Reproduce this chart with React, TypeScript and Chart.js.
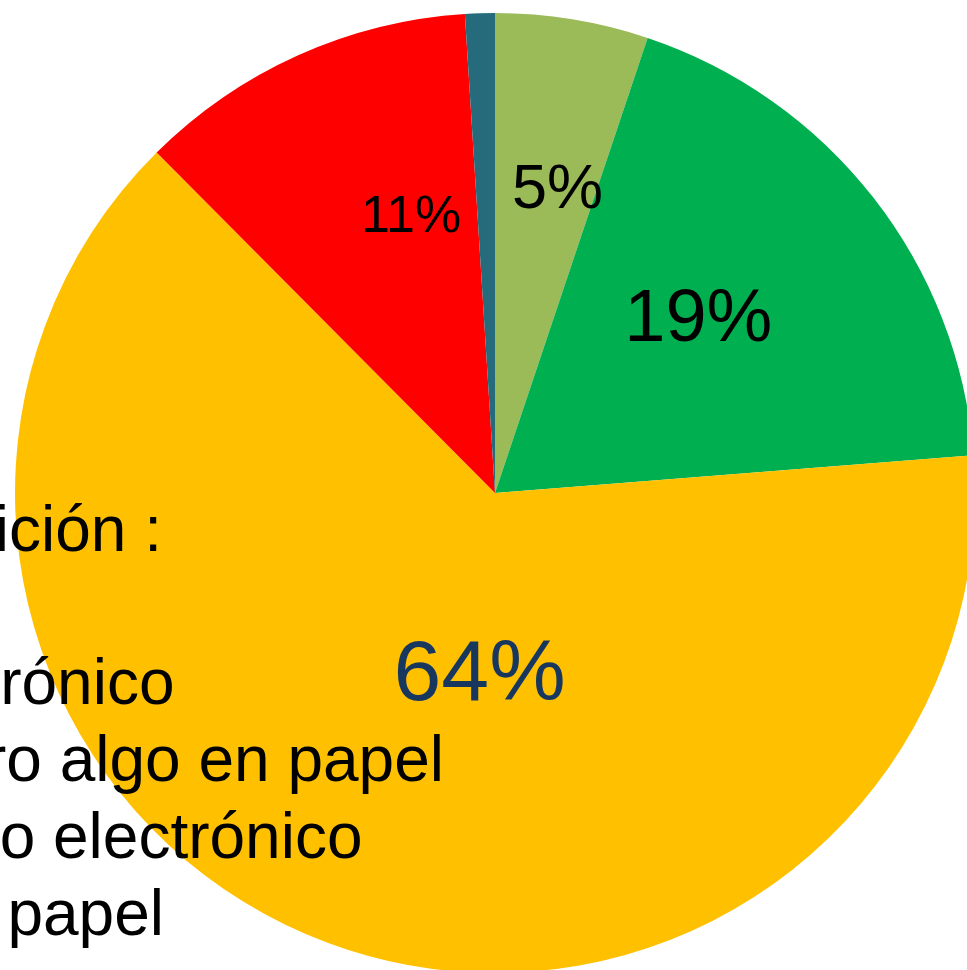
import { useEffect, useRef } from "react";
import { Chart, registerables } from "chart.js";

Chart.register(...registerables);

// ---- data ----
const legendTitle = "Preferencia de edición :";
const categories = [
  "Solo electrónico",
  "Electrónico pero algo en papel",
  "Papel pero algo electrónico",
  "Solo papel",
  "No sabe / No contesta",
];
const shares = [5.15, 18.6, 63.8, 11.45, 1.0];
const sliceColors = ["#9BBB59", "#00B050", "#FFC000", "#FF0000", "#266B7B"];

// ---- label styling (per slice) ----
const labelSizes = [63, 74, 86, 52, 52];
const labelColors = ["#000000", "#000000", "#17375E", "#000000", "#000000"];
const labelAngleShift = [2.22, -3.22, -15.34, 7.51, 0];
const labelRadiusFrac = [0.654, 0.563, 0.368, 0.608, 0.6];
const labelVisible = [true, true, true, true, false];

// ---- legend layout ----
const legendFont = 64;
const legendTitleBaseline = 551;
const legendFirstBaseline = 703.5;
const legendStep = 77.2;
const legendTitleRight = 162;
const legendRights = [174.5, 444, 362.5, 164, 300];

const FONT = '"Liberation Sans", Arial, Helvetica, sans-serif';

const pieLabels = {
  id: "pieLabels",
  afterDatasetsDraw(chart: any) {
    const ctx = chart.ctx;
    const meta = chart.getDatasetMeta(0);
    const total = shares.reduce((a, b) => a + b, 0);
    meta.data.forEach((arc: any, i: number) => {
      if (!labelVisible[i]) return;
      const { x, y, startAngle, endAngle, outerRadius } = arc.getProps(
        ["x", "y", "startAngle", "endAngle", "outerRadius"],
        true
      );
      const a = (startAngle + endAngle) / 2 + (labelAngleShift[i] * Math.PI) / 180;
      const px = x + Math.cos(a) * outerRadius * labelRadiusFrac[i];
      const py = y + Math.sin(a) * outerRadius * labelRadiusFrac[i];
      const size = labelSizes[i];
      ctx.save();
      ctx.font = `${size}px ${FONT}`;
      ctx.fillStyle = labelColors[i];
      ctx.textAlign = "center";
      ctx.textBaseline = "alphabetic";
      ctx.fillText(Math.round((shares[i] / total) * 100) + "%", px, py + size * 0.358);
      ctx.restore();
    });
  },
};

const textLegend = {
  id: "textLegend",
  afterDraw(chart: any) {
    const ctx = chart.ctx;
    ctx.save();
    ctx.font = `${legendFont}px ${FONT}`;
    ctx.fillStyle = "#000000";
    ctx.textAlign = "right";
    ctx.textBaseline = "alphabetic";
    ctx.fillText(legendTitle, legendTitleRight, legendTitleBaseline);
    categories.forEach((c, i) => {
      ctx.fillText(c, legendRights[i], legendFirstBaseline + i * legendStep);
    });
    ctx.restore();
  },
};

export default function App() {
  const ref = useRef<HTMLCanvasElement | null>(null);
  useEffect(() => {
    if (!ref.current) return;
    const chart = new Chart(ref.current, {
      type: "pie",
      data: {
        labels: categories,
        datasets: [
          {
            data: shares,
            backgroundColor: sliceColors,
            borderWidth: 0,
          },
        ],
      },
      options: {
        responsive: false,
        animation: false,
        devicePixelRatio: 1,
        events: [],
        layout: { padding: { left: 15, right: 15, top: 13, bottom: 17 } },
        plugins: {
          legend: { display: false },
          tooltip: { enabled: false },
        },
      },
      plugins: [pieLabels, textLegend],
    });
    return () => chart.destroy();
  }, []);
  return (
    <div
      style={{
        position: "fixed",
        left: 0,
        top: 0,
        width: 967,
        height: 970,
        overflow: "hidden",
        background: "#ffffff",
      }}
    >
      <canvas
        ref={ref}
        width={990}
        height={990}
        style={{ position: "absolute", left: 0, top: 0, width: 990, height: 990 }}
      />
    </div>
  );
}
